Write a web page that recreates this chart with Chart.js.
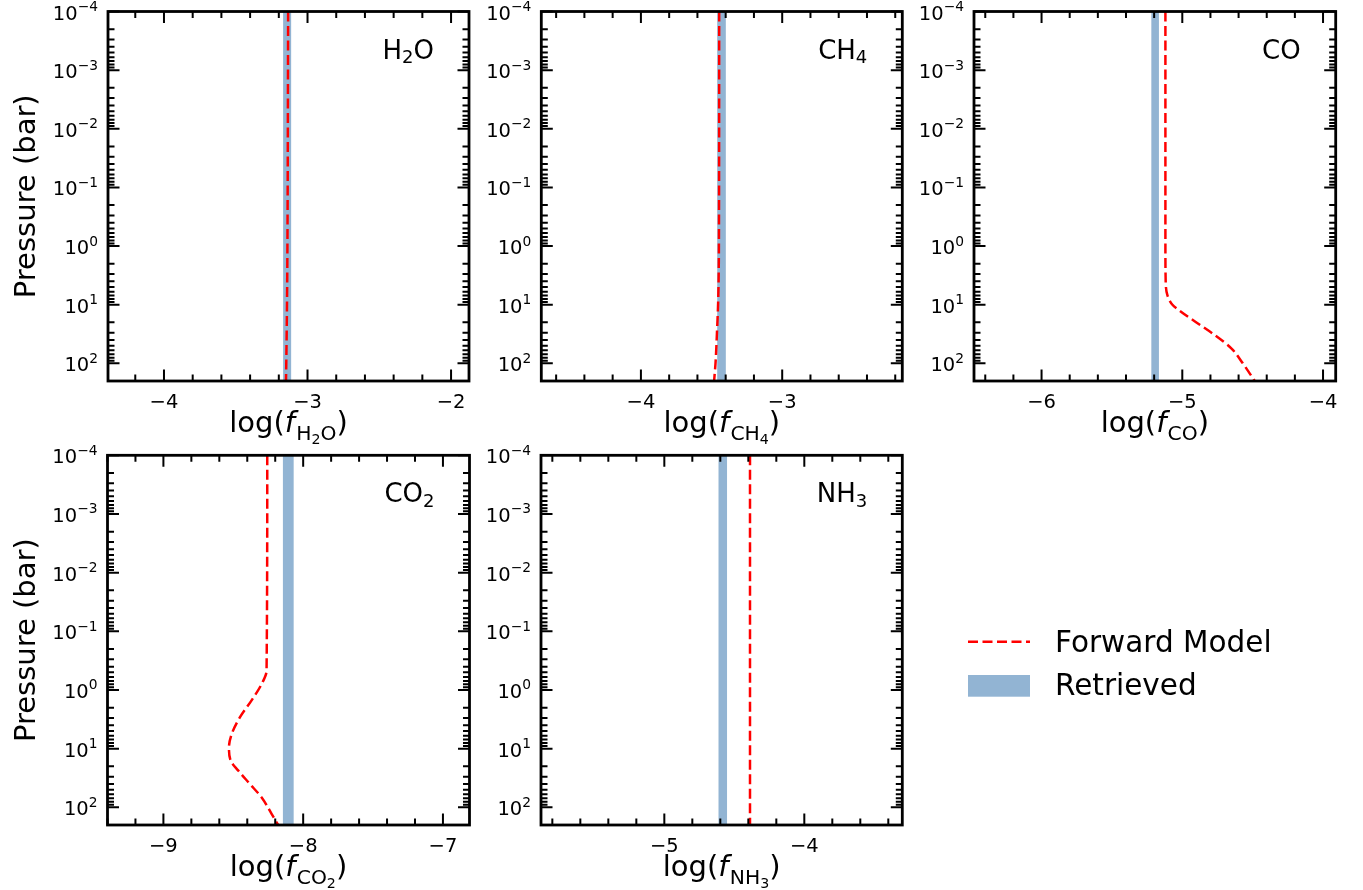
<!DOCTYPE html>
<html>
<head>
<meta charset="utf-8">
<script src="https://cdn.jsdelivr.net/npm/chart.js@4.4.1/dist/chart.umd.min.js"></script>
<style>
  html, body { margin: 0; padding: 0; background: #fff; }
  #wrap { position: relative; width: 1363px; height: 890px; }
  #wrap canvas { position: absolute; left: 0; top: 0; }
</style>
</head>
<body>
<div id="wrap"></div>
<script>
// pressure grid (bar) shared by the retrieved bands
const bandPressure = [1e-4, 200];
const pressureTicks = [1e-4, 1e-3, 1e-2, 1e-1, 1e0, 1e1, 1e2];
const pressureExp = ["\u22124", "\u22123", "\u22122", "\u22121", "0", "1", "2"];

// forward model profiles
const pressureH2O = [1e-4, 1, 10, 100, 200];
const modelH2O = [-3.135, -3.14, -3.143, -3.148, -3.15];
const retrievedH2O = [-3.17, -3.114];

const pressureCH4 = [1e-4, 1, 8.5, 31, 100, 200];
const modelCH4 = [-3.446, -3.448, -3.453, -3.462, -3.472, -3.482];
const retrievedCH4 = [-3.46, -3.399];

const pressureCO = [1e-4, 1, 4, 7, 10, 12.6, 18.6, 31.6, 56, 100, 200];
const modelCO = [-5.12, -5.12, -5.118, -5.105, -5.07, -5.02, -4.92, -4.78, -4.65, -4.57, -4.485];
const retrievedCO = [-5.22, -5.166];

const pressureCO2 = [1e-4, 0.47, 0.79, 1.5, 2.9, 5.6, 9.5, 16, 23.7, 40, 68, 129, 200];
const modelCO2 = [-8.257, -8.262, -8.297, -8.369, -8.452, -8.511, -8.531, -8.519, -8.464, -8.381, -8.297, -8.226, -8.179];
const retrievedCO2 = [-8.145, -8.068];

const pressureNH3 = [1e-4, 200];
const modelNH3 = [-4.388, -4.388];
const retrievedNH3 = [-4.613, -4.552];

const W = 1363, H = 890;
const RED = "#ff0000";
const BAND = "#92b4d3";
const FONT = "'DejaVu Sans', sans-serif";

// name runs: [text, level] level 0 = normal, 1 = subscript
const panels = [
  { box: [108, 469, 11.5, 381], xr: [-4.39, -1.875], p: pressureH2O, m: modelH2O, r: retrievedH2O,
    mol: [["H", 0], ["2", 1], ["O", 0]], yLabel: true },
  { box: [541.3, 902.3, 11.5, 381], xr: [-4.705, -2.15], p: pressureCH4, m: modelCH4, r: retrievedCH4,
    mol: [["CH", 0], ["4", 1]] },
  { box: [974, 1335.7, 11.5, 381], xr: [-6.48, -3.91], p: pressureCO, m: modelCO, r: retrievedCO,
    mol: [["CO", 0]] },
  { box: [107.5, 469.5, 455.3, 825], xr: [-9.40, -6.81], p: pressureCO2, m: modelCO2, r: retrievedCO2,
    mol: [["CO", 0], ["2", 1]], yLabel: true },
  { box: [541, 902.3, 455.3, 825], xr: [-5.881, -3.30], p: pressureNH3, m: modelNH3, r: retrievedNH3,
    mol: [["NH", 0], ["3", 1]], legend: true }
];

function drawRuns(ctx, runs, x, y, align) {
  let w = 0;
  runs.forEach(r => {
    ctx.font = (r.italic ? "italic " : "") + r.size + "px " + FONT;
    r.w = ctx.measureText(r.t).width;
    w += r.w;
  });
  let cx = align === "right" ? x - w : align === "center" ? x - w / 2 : x;
  runs.forEach(r => {
    ctx.font = (r.italic ? "italic " : "") + r.size + "px " + FONT;
    ctx.fillText(r.t, cx, y + (r.dy || 0));
    cx += r.w;
  });
}

const axesPlugin = {
  id: "axesPlugin",
  afterDraw(chart) {
    const ctx = chart.ctx;
    const cfg = chart.options.plugins.axesPlugin;
    const xs = chart.scales.x, ys = chart.scales.y;
    const a = chart.chartArea;
    ctx.save();
    ctx.strokeStyle = "#000";
    ctx.fillStyle = "#000";
    ctx.textBaseline = "alphabetic";

    // x ticks: majors at integers, minors every 0.2
    ctx.lineWidth = 2;
    for (let k = Math.ceil(xs.min * 5 - 1e-6); k <= Math.floor(xs.max * 5 + 1e-6); k++) {
      const v = k / 5;
      const px = xs.getPixelForValue(v);
      const major = k % 5 === 0;
      const len = major ? 11.5 : 6.5;
      ctx.beginPath();
      ctx.moveTo(px, a.bottom); ctx.lineTo(px, a.bottom - len);
      ctx.moveTo(px, a.top); ctx.lineTo(px, a.top + len);
      ctx.stroke();
      if (major) {
        ctx.font = "19.5px " + FONT;
        ctx.textAlign = "center";
        const lbl = v < 0 ? "\u2212" + Math.abs(v) : String(v);
        ctx.fillText(lbl, px, a.bottom + 26.5);
      }
    }

    // y ticks: decades and 2..9 minors
    for (let e = -4; e <= 2; e++) {
      for (let m = 1; m <= 9; m++) {
        const v = m * Math.pow(10, e);
        if (v < ys.min * 0.999 || v > ys.max * 0.999) continue;
        const py = ys.getPixelForValue(v);
        const len = m === 1 ? 11.5 : 6.5;
        ctx.beginPath();
        ctx.moveTo(a.left, py); ctx.lineTo(a.left + len, py);
        ctx.moveTo(a.right, py); ctx.lineTo(a.right - len, py);
        ctx.stroke();
      }
    }
    ctx.textAlign = "left";
    pressureTicks.forEach((v, i) => {
      const py = ys.getPixelForValue(v);
      drawRuns(ctx, [
        { t: "10", size: 19.5 },
        { t: pressureExp[i], size: 13.8, dy: -8.5 }
      ], a.left - 10, py + 8, "right");
    });

    // frame
    ctx.lineWidth = 2.8;
    ctx.strokeRect(a.left, a.top, a.right - a.left, a.bottom - a.top);

    // x title log(f_mol)
    const sub = cfg.mol.map(([t, lvl]) => lvl === 0
      ? { t, size: 20.3, dy: 7.5 }
      : { t, size: 14.2, dy: 12 });
    drawRuns(ctx, [
      { t: "log(", size: 29 },
      { t: "f", size: 29, italic: true },
      { t: "\u2009", size: 6 }
    ].concat(sub, [{ t: ")", size: 29 }]), (a.left + a.right) / 2, a.bottom + 51, "center");

    // molecule annotation
    drawRuns(ctx, cfg.mol.map(([t, lvl]) => lvl === 0
      ? { t, size: 26 }
      : { t, size: 18, dy: 4.5 }), a.right - 35, a.top + 47, "right");

    // y title
    if (cfg.yLabel) {
      ctx.save();
      ctx.translate(34.5, (a.top + a.bottom) / 2);
      ctx.rotate(-Math.PI / 2);
      ctx.textAlign = "center";
      ctx.font = "29px " + FONT;
      ctx.fillText("Pressure (bar)", 0, 0);
      ctx.restore();
    }

    // legend in the empty sixth cell
    if (cfg.legend) {
      const ds = chart.data.datasets;
      ctx.strokeStyle = ds[0].borderColor;
      ctx.lineWidth = ds[0].borderWidth;
      ctx.setLineDash(ds[0].borderDash);
      ctx.beginPath();
      ctx.moveTo(968, 641.7); ctx.lineTo(1030, 641.7);
      ctx.stroke();
      ctx.setLineDash([]);
      ctx.fillStyle = ds[1].backgroundColor;
      ctx.fillRect(968, 675, 62, 21.7);
      ctx.fillStyle = "#000";
      ctx.textAlign = "left";
      ctx.font = "29.5px " + FONT;
      ctx.fillText(ds[0].label, 1055, 652.3);
      ctx.fillText(ds[1].label, 1055, 695);
    }
    ctx.restore();
  }
};

const wrap = document.getElementById("wrap");
panels.forEach(pn => {
  const canvas = document.createElement("canvas");
  canvas.width = W;
  canvas.height = H;
  wrap.appendChild(canvas);
  new Chart(canvas.getContext("2d"), {
    type: "line",
    data: {
      datasets: [
        {
          label: "Forward Model",
          data: pn.m.map((x, i) => ({ x: x, y: pn.p[i] })),
          borderColor: RED,
          borderWidth: 2.5,
          borderDash: [10, 4.5],
          pointRadius: 0,
          fill: false,
          cubicInterpolationMode: "monotone"
        },
        {
          label: "Retrieved",
          data: bandPressure.map(y => ({ x: pn.r[0], y: y })),
          borderColor: "transparent",
          borderWidth: 0,
          backgroundColor: BAND,
          pointRadius: 0,
          fill: "+1"
        },
        {
          label: "Retrieved upper",
          data: bandPressure.map(y => ({ x: pn.r[1], y: y })),
          borderColor: "transparent",
          borderWidth: 0,
          pointRadius: 0,
          fill: false
        }
      ]
    },
    options: {
      indexAxis: "y",
      responsive: false,
      animation: false,
      events: [],
      layout: {
        padding: { left: pn.box[0], right: W - pn.box[1], top: pn.box[2], bottom: H - pn.box[3] }
      },
      scales: {
        x: { type: "linear", min: pn.xr[0], max: pn.xr[1], display: false },
        y: { type: "logarithmic", min: 1e-4, max: 200, reverse: true, display: false }
      },
      plugins: {
        legend: { display: false },
        tooltip: { enabled: false },
        axesPlugin: { mol: pn.mol, yLabel: !!pn.yLabel, legend: !!pn.legend }
      }
    },
    plugins: [axesPlugin]
  });
});
</script>
</body>
</html>
